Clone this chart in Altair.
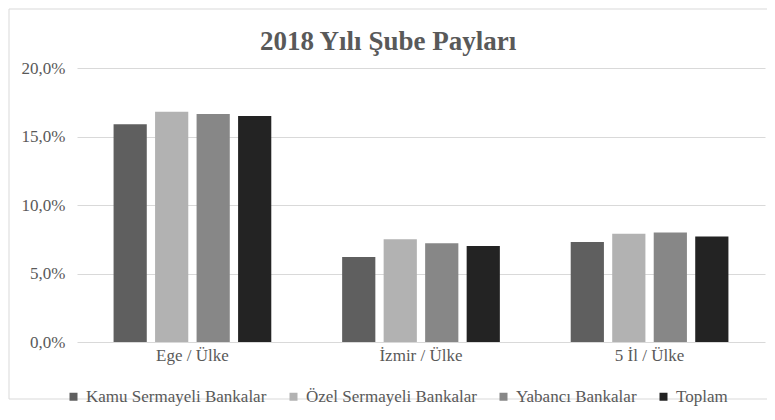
import altair as alt
import pandas as pd

categories = ["Ege / Ülke", "İzmir / Ülke", "5 İl / Ülke"]
series = ["Kamu Sermayeli Bankalar", "Özel Sermayeli Bankalar", "Yabancı Bankalar", "Toplam"]
kamu = [0.159, 0.062, 0.073]
ozel = [0.168, 0.075, 0.079]
yabanci = [0.1665, 0.072, 0.080]
toplam = [0.165, 0.070, 0.077]
colors = ["#5f5f5f", "#b2b2b2", "#878787", "#232323"]

rows = []
for s, vals in zip(series, [kamu, ozel, yabanci, toplam]):
    for c, v in zip(categories, vals):
        rows.append({"Bölge": c, "Seri": s, "Pay": v})
df = pd.DataFrame(rows)

FONT = "'Liberation Serif', 'Times New Roman', serif"
TXT = "#595959"

bars = alt.Chart(df).mark_bar().encode(
    x=alt.X("Bölge:N", sort=categories, title=None,
            scale=alt.Scale(paddingInner=0.31, paddingOuter=0.16),
            axis=alt.Axis(labelAngle=0, labelFont=FONT, labelFontSize=17, labelColor=TXT,
                          labelPadding=5, ticks=False, domain=False, grid=False)),
    xOffset=alt.XOffset("Seri:N", sort=series,
                        scale=alt.Scale(paddingInner=0.2, paddingOuter=0.0)),
    y=alt.Y("Pay:Q", title=None,
            scale=alt.Scale(domain=[0, 0.2]),
            axis=alt.Axis(values=[0, 0.05, 0.1, 0.15, 0.2],
                          labelExpr="replace(format(datum.value, '.1%'), '.', ',')",
                          labelFont=FONT, labelFontSize=17, labelColor=TXT, labelPadding=12,
                          ticks=False, domain=False, grid=True, gridColor="#d9d9d9")),
    color=alt.Color("Seri:N", sort=series,
                    scale=alt.Scale(domain=series, range=colors),
                    legend=alt.Legend(title=None, orient="none", legendX=-12, legendY=320,
                                      direction="horizontal", symbolType="square",
                                      symbolSize=64, symbolStrokeWidth=0, labelLimit=400,
                                      labelFont=FONT, labelFontSize=17, labelColor=TXT,
                                      columnPadding=18, labelOffset=4)),
)

frame = alt.Chart(pd.DataFrame({"k": [0]})).mark_rect(
    fill=None, stroke="#d9d9d9", strokeWidth=1
).encode(
    x=alt.value(-68), x2=alt.value(720),
    y=alt.value(-59), y2=alt.value(331),
)

chart = alt.layer(frame, bars).properties(
    width=688, height=274,
    autosize=alt.AutoSizeParams(type="none"),
    padding={"left": 69, "top": 60, "right": 2, "bottom": 66},
    title=alt.TitleParams("2018 Yılı Şube Payları", font=FONT, fontSize=27, fontWeight="bold",
                          color=TXT, anchor="middle", dx=-33, dy=64, offset=17),
).configure_view(stroke=None)

chart.save("out.html", embed_options={"renderer": "svg", "actions": False})
